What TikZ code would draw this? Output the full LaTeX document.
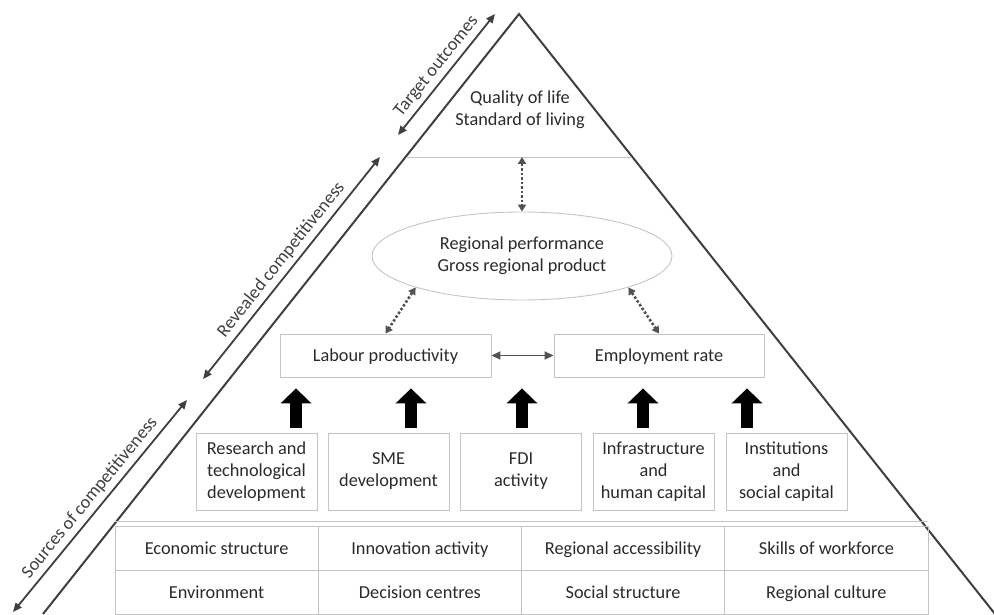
\documentclass[tikz,border=0pt]{standalone}
\usepackage{fontspec}
\setmainfont{Carlito}
\usepackage{tikz}
\usetikzlibrary{arrows.meta,positioning,calc,shapes.geometric}
\definecolor{edgegrey}{HTML}{3F3F3F}
\definecolor{boxgrey}{HTML}{C4C4C4}
\definecolor{txtgrey}{HTML}{2A2A2A}
\tikzstyle{box}=[draw=boxgrey,line width=0.9pt,text=txtgrey,align=center,inner sep=0pt]
\tikzstyle{factor}=[box,minimum width=121pt,minimum height=77pt]
\tikzstyle{oneline}=[box,text height=14pt,text depth=1pt]
\tikzstyle{cell}=[oneline,minimum width=203.25pt,minimum height=44pt]
\tikzstyle{sidearrow}=[edgegrey,line width=1.8pt,{Triangle[length=9pt,width=7.5pt]}-{Triangle[length=9pt,width=7.5pt]}]
\tikzstyle{linkarrow}=[edgegrey!90,line width=2.6pt,dash pattern=on 2.5pt off 2pt,{Triangle[length=7pt,width=8pt]}-{Triangle[length=7pt,width=8pt]}]
\tikzstyle{fatarrow}=[black,line width=12pt,-{Triangle[length=15pt,width=31pt,line width=0pt]}]

\begin{document}
\begin{tikzpicture}[x=1pt,y=1pt,font=\fontsize{18.3}{22}\selectfont,text=txtgrey]
\useasboundingbox (0,0) rectangle (994,614);
% pyramid
\coordinate (apex) at (519,600);
\coordinate (bl) at (43,0);
\coordinate (br) at (995,0);
\draw[edgegrey,line width=2pt] (bl) -- (apex) -- (br);
\coordinate (hl) at ($(apex)!0.2383!(bl)$);
\coordinate (hr) at ($(apex)!0.2383!(br)$);
\draw[boxgrey,line width=0.9pt] (hl) -- (hr);

% side arrows
\coordinate (t1) at (398,479);
\coordinate (t2) at (495,600);
\coordinate (r1) at (203,235);
\coordinate (r2) at (380,457);
\coordinate (s1) at (13,2);
\coordinate (s2) at (187,214);
\draw[sidearrow] (t1) -- node[sloped,above=1pt] {Target outcomes} (t2);
\draw[sidearrow] (r1) -- node[sloped,above=1pt] {Revealed competitiveness} (r2);
\draw[sidearrow] (s1) -- node[sloped,above=1pt] {Sources of competitiveness} (s2);

% outcomes and performance
\node[align=center] (life) at (520,504) {Quality of life\\Standard of living};
\node[box,ellipse,minimum width=300pt,minimum height=88pt] (perf) at (522,358) {Regional performance\\Gross regional product};
\coordinate (mid) at (perf.north |- hl);
\draw[linkarrow] (mid) -- (perf.north);

\node[oneline,minimum width=211pt,minimum height=43pt] (lab) at (385.5,258.5) {Labour productivity};
\node[oneline,minimum width=210pt,minimum height=43pt] (emp) at (659,258.5) {Employment rate};
\draw[linkarrow] (perf.south west) -- (lab.north);
\draw[linkarrow] (perf.south east) -- (emp.north);
\draw[edgegrey!90,line width=1.8pt,{Triangle[length=9pt,width=8pt]}-{Triangle[length=9pt,width=8pt]}] (lab) -- (emp);

% factors
\node[factor] (rtd) at (256.5,142.5) {Research and\\technological\\development};
\node[factor] (sme) at (388.5,142.5) {SME\\development};
\node[factor] (fdi) at (521,142.5) {FDI\\activity};
\node[factor] (inf) at (653.5,142.5) {Infrastructure\\and\\human capital};
\node[factor] (ins) at (786.5,142.5) {Institutions\\and\\social capital};
\foreach \f/\dx in {rtd/39.5,sme/22.5,fdi/1,inf/-10.5,ins/-39.5}
  \draw[fatarrow,shorten <=5pt,shorten >=11pt] ([xshift=\dx pt]\f.north) -- ([xshift=\dx pt]\f.north |- lab.south);

% base table
\foreach \lbl [count=\i] in {Economic structure,Innovation activity,Regional accessibility,Skills of workforce}
  \node[cell] (top\i) at (115+203.25*\i-101.625,66) {\lbl};
\foreach \lbl [count=\i] in {Environment,Decision centres,Social structure,Regional culture}
  \node[cell] (bot\i) at (115+203.25*\i-101.625,22) {\lbl};
\draw[boxgrey,line width=0.9pt] ([yshift=4pt]top1.north west) -- ([yshift=4pt]top4.north east);
\end{tikzpicture}
\end{document}
